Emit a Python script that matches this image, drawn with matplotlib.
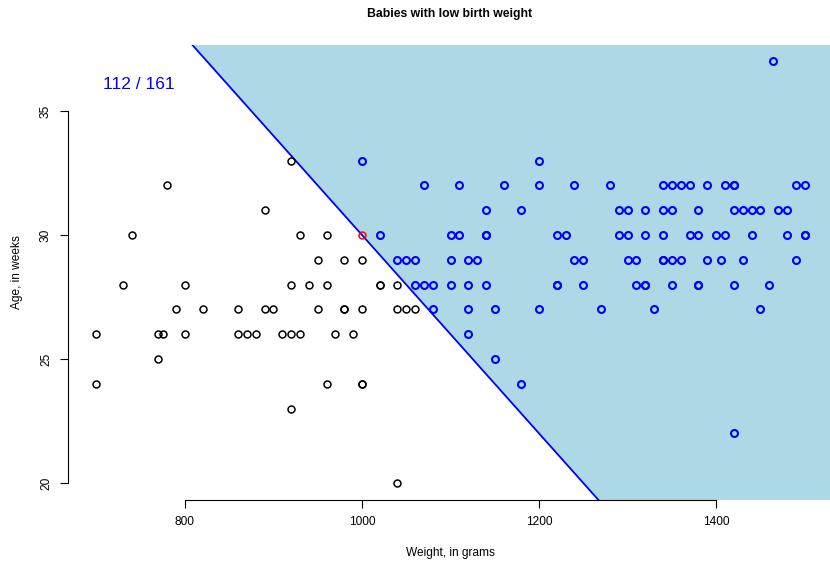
import matplotlib
matplotlib.use('Agg')
import matplotlib.pyplot as plt
import numpy as np

plt.rcParams['font.family'] = ['Liberation Sans', 'DejaVu Sans']

# babies below the line (black), weight in grams and age in weeks
black_w = [920, 780, 890, 740, 930, 960,
           950, 980, 1000,
           730, 800, 920, 940, 960, 1020, 1020, 1040,
           790, 820, 860, 890, 900, 950, 980, 980, 1000, 1040, 1050, 1060,
           700, 770, 775, 800, 860, 870, 880, 910, 920, 930, 970, 990,
           770, 700, 960, 1000, 1000, 920, 1040]
black_a = [33, 32, 31, 30, 30, 30,
           29, 29, 29,
           28, 28, 28, 28, 28, 28, 28, 28,
           27, 27, 27, 27, 27, 27, 27, 27, 27, 27, 27, 27,
           26, 26, 26, 26, 26, 26, 26, 26, 26, 26, 26, 26,
           25, 24, 24, 24, 24, 23, 20]

# babies above the line (blue)
blue_w = [1464,
          1000, 1200,
          1070, 1110, 1160, 1200, 1240, 1280, 1340, 1350, 1360, 1370, 1390, 1410, 1420, 1420, 1490, 1500,
          1140, 1180, 1290, 1300, 1320, 1340, 1350, 1380, 1420, 1430, 1440, 1450, 1470, 1480,
          1020, 1100, 1110, 1140, 1140, 1220, 1230, 1290, 1300, 1320, 1340, 1370, 1380, 1400, 1410, 1440, 1480, 1500, 1500,
          1040, 1050, 1060, 1100, 1120, 1130, 1240, 1250, 1300, 1310, 1340, 1340, 1350, 1360, 1390, 1405, 1430, 1490,
          1060, 1070, 1080, 1100, 1120, 1140, 1220, 1220, 1250, 1310, 1320, 1320, 1350, 1380, 1380, 1420, 1460,
          1080, 1120, 1150, 1200, 1270, 1330, 1450,
          1120, 1150, 1180, 1420]
blue_a = [37,
          33, 33,
          32, 32, 32, 32, 32, 32, 32, 32, 32, 32, 32, 32, 32, 32, 32, 32,
          31, 31, 31, 31, 31, 31, 31, 31, 31, 31, 31, 31, 31, 31,
          30, 30, 30, 30, 30, 30, 30, 30, 30, 30, 30, 30, 30, 30, 30, 30, 30, 30, 30,
          29, 29, 29, 29, 29, 29, 29, 29, 29, 29, 29, 29, 29, 29, 29, 29, 29, 29,
          28, 28, 28, 28, 28, 28, 28, 28, 28, 28, 28, 28, 28, 28, 28, 28, 28,
          27, 27, 27, 27, 27, 27, 27,
          26, 25, 24, 22]

red_w = [1000]
red_a = [30]

# separating line: through (1000, 30) with slope -0.04
line_x0, line_y0, line_slope = 1000, 30, -0.04
count_label = '112 / 161'

xticks = [800, 1000, 1200, 1400]
yticks = [20, 25, 30, 35]

fig = plt.figure(figsize=(8.3, 5.61), dpi=100)
ax = fig.add_axes([68/830, 1-499.9/561, 765/830, 455.4/561])
ax.set_xlim(668, 1532)
ax.set_ylim(19.32, 37.68)

xs = np.linspace(668, 1532, 50)
ys = line_y0 + line_slope*(xs - line_x0)
ax.fill_between(xs, ys, 40, color='#ADD8E6', lw=0, zorder=0)
ax.plot(xs, ys, color='#0000FF', lw=1.3, zorder=1)

ax.plot(black_w, black_a, 'o', mfc='none', mec='black', ms=5, mew=1.1, zorder=2)
ax.plot(blue_w, blue_a, 'o', mfc='none', mec='#0000FF', ms=5, mew=1.5, zorder=2)
ax.plot(red_w, red_a, 'o', mfc='none', mec='#FF0000', ms=5, mew=1.1, zorder=3)

ax.text(0.093, 0.913, count_label, transform=ax.transAxes, color='#0000FF',
        fontsize=12.5, ha='center', va='center')

for s in ['top', 'right']:
    ax.spines[s].set_visible(False)
ax.spines['left'].set_bounds(20, 35)
ax.spines['bottom'].set_bounds(800, 1400)
ax.set_xticks(xticks)
ax.set_yticks(yticks)
ax.tick_params(length=5.5, width=0.8, labelsize=8.6, pad=6)
for lab in ax.get_yticklabels():
    lab.set_rotation(90)
    lab.set_va('center')

ax.set_xlabel('Weight, in grams', fontsize=8.6, labelpad=14)
ax.set_ylabel('Age, in weeks', fontsize=8.6, labelpad=12.5)
fig.text(450/830, 1-14/561, 'Babies with low birth weight', fontsize=8.8,
         fontweight='bold', ha='center', va='center')

fig.savefig('out.png', dpi=100)
